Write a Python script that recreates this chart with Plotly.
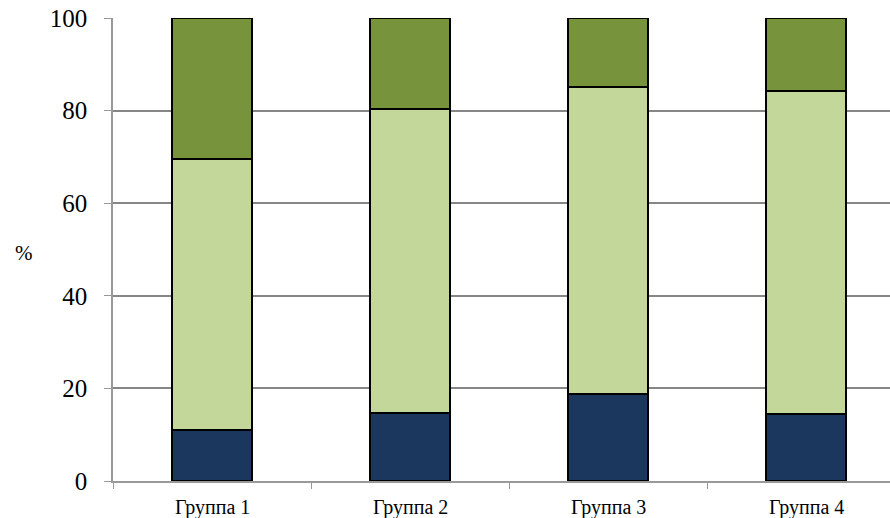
import plotly.graph_objects as go

categories = ["Группа 1", "Группа 2", "Группа 3", "Группа 4"]
s1 = [11.0, 14.6, 18.8, 14.5]
s2 = [58.5, 65.7, 66.3, 69.7]
s3 = [30.5, 19.7, 14.9, 15.8]
colors = ["#1B375D", "#C4D79B", "#77933C"]
yticks = [0, 20, 40, 60, 80, 100]

fig = go.Figure()
for vals, c in zip([s1, s2, s3], colors):
    fig.add_trace(go.Bar(x=categories, y=vals, marker=dict(color=c, line=dict(color="black", width=2)),
                         width=0.4, showlegend=False))

fig.update_layout(
    barmode="stack",
    width=890, height=518,
    margin=dict(l=113, r=0, t=18, b=37),
    plot_bgcolor="white", paper_bgcolor="white",
    font=dict(family="Liberation Serif, Times New Roman, serif", color="black"),
    xaxis=dict(range=[-0.5, 3.424], showline=True, linecolor="#999999", linewidth=1.5,
               ticks="outside", ticklen=6, tickcolor="#999999",
               tickmode="array", tickvals=[-0.5, 0.5, 1.5, 2.5], ticktext=["", "", "", ""],
               showgrid=False),
    yaxis=dict(range=[0, 100], tickvals=yticks, showline=True, linecolor="#999999", linewidth=1.5,
               ticks="outside", ticklen=7, tickcolor="#999999", gridcolor="#868686", gridwidth=1.5,
               tickfont=dict(size=25), ticklabelstandoff=12, zeroline=False),
)
for i, c in enumerate(categories):
    fig.add_annotation(x=i, y=0, yref="paper", text=c, showarrow=False, yanchor="middle", yshift=-26,
                       font=dict(size=20))
fig.add_annotation(xref="paper", yref="paper", x=-89/777, y=(481 - 253) / 463, text="%",
                   showarrow=False, xanchor="center", yanchor="middle", font=dict(size=21))
fig.write_html("out.html", config={"displayModeBar": False},
               post_script="document.body.style.margin='0';document.body.style.padding='0';")
